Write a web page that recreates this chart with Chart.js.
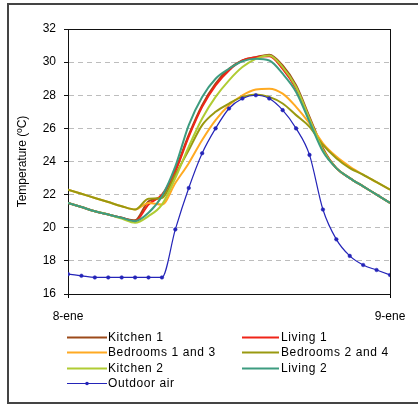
<!DOCTYPE html>
<html><head><meta charset="utf-8">
<script src="https://cdn.jsdelivr.net/npm/chart.js@4.4.0/dist/chart.umd.min.js"></script>
<style>
html,body{margin:0;padding:0;background:#fff;overflow:hidden;}
#frame{position:absolute;left:7px;top:3px;width:420px;height:401px;border:2px solid #444;box-sizing:border-box;}
#c{position:absolute;left:0;top:0;}
</style></head><body>
<div id="frame"></div>
<canvas id="c" width="418" height="406"></canvas>
<script>
const hours = [0,1,2,3,4,5,6,7,8,9,10,11,12,13,14,15,16,17,18,19,20,21,22,23,24];
const xTickLabels = ['8-ene','9-ene'];
const seriesNames = ['Kitchen 1','Living 1','Bedrooms 1 and 3','Bedrooms 2 and 4','Kitchen 2','Living 2','Outdoor air'];
const kitchen1  = [21.5,21.25,21.0,20.8,20.6,20.45,21.6,21.9,23.5,25.6,27.4,28.7,29.6,30.1,30.3,30.45,29.8,28.6,26.7,24.8,23.6,23.0,22.5,22.0,21.5];
const living1   = [21.5,21.25,21.0,20.8,20.6,20.4,21.4,22.0,23.4,25.5,27.3,28.6,29.5,30.1,30.3,30.35,29.6,28.4,26.6,24.7,23.6,23.0,22.5,22.0,21.5];
const bedrooms13= [22.3,22.05,21.8,21.55,21.3,21.1,21.5,21.4,22.7,23.9,25.3,26.5,27.4,28.0,28.35,28.4,28.1,27.3,26.3,25.1,24.3,23.7,23.2,22.75,22.3];
const bedrooms24= [22.3,22.05,21.8,21.55,21.3,21.1,21.75,21.8,23.2,24.7,26.2,27.0,27.5,27.9,28.05,27.9,27.5,26.8,26.1,25.0,24.2,23.6,23.2,22.75,22.3];
const kitchen2  = [21.5,21.25,21.0,20.8,20.55,20.3,20.7,21.4,23.0,24.9,26.6,27.9,28.9,29.7,30.2,30.4,29.7,28.5,26.6,24.7,23.6,23.0,22.5,22.0,21.5];
const living2   = [21.5,21.25,21.0,20.8,20.6,20.4,20.9,21.9,23.7,26.2,27.9,29.0,29.6,30.05,30.2,30.1,29.3,28.2,26.4,24.6,23.6,23.0,22.5,22.0,21.5];
const outdoorAir= [17.2,17.1,17.0,17.0,17.0,17.0,17.0,17.0,19.9,22.4,24.5,26.0,27.2,27.8,28.0,27.8,27.1,26.0,24.4,21.1,19.3,18.3,17.75,17.45,17.15];
const seriesValues = [kitchen1,living1,bedrooms13,bedrooms24,kitchen2,living2,outdoorAir];
const seriesColors = ['#9C4A1A','#F02418','#FFAA22','#999910','#B0CC33','#3D9C80','#2424B8'];

const FONT = '"Liberation Sans", Arial, sans-serif';

const datasets = seriesValues.map((vals,i)=>{
  const outdoor = i === seriesValues.length-1;
  return {
    label: seriesNames[i],
    data: hours.map((h,k)=>({x:h,y:vals[k]})),
    borderColor: seriesColors[i],
    backgroundColor: seriesColors[i],
    borderWidth: outdoor ? 1.2 : 2,
    pointRadius: outdoor ? 1.8 : 0,
    pointBackgroundColor: seriesColors[i],
    pointBorderColor: seriesColors[i],
    pointBorderWidth: 0.5,
    cubicInterpolationMode: 'monotone',
    fill: false,
    order: seriesValues.length - i
  };
});

const frameAndLegend = {
  id: 'frameAndLegend',
  beforeDatasetsDraw(chart){
    const a = chart.chartArea, ctx = chart.ctx;
    ctx.save();
    ctx.strokeStyle = '#111';
    ctx.lineWidth = 1;
    ctx.strokeRect(Math.round(a.left)+0.5, Math.round(a.top)+0.5, Math.round(a.right-a.left), Math.round(a.bottom-a.top));
    ctx.restore();
  },
  afterDraw(chart){
    const ctx = chart.ctx;
    ctx.save();
    ctx.font = '12px ' + FONT;
    try { ctx.letterSpacing = '0.6px'; } catch(e) {}
    ctx.textBaseline = 'middle';
    chart.data.datasets.forEach((ds,i)=>{
      const col = i%2, row = Math.floor(i/2);
      const x0 = col ? 242 : 67, x1 = col ? 279 : 107, tx = col ? 281 : 108;
      const y = Math.round(337 + row*15.3) + 0.5;
      ctx.strokeStyle = ds.borderColor;
      ctx.lineWidth = ds.borderWidth;
      ctx.beginPath(); ctx.moveTo(x0,y); ctx.lineTo(x1,y); ctx.stroke();
      if (ds.pointRadius > 0) {
        ctx.fillStyle = ds.pointBackgroundColor;
        ctx.beginPath(); ctx.arc((x0+x1)/2, y, ds.pointRadius, 0, Math.PI*2); ctx.fill();
      }
      ctx.fillStyle = '#000';
      ctx.fillText(ds.label, tx, y);
    });
    ctx.restore();
  }
};

new Chart(document.getElementById('c'), {
  type: 'line',
  data: { datasets },
  plugins: [frameAndLegend],
  options: {
    responsive: false,
    animation: false,
    events: [],
    layout: { padding: { top: 29, right: 28, left: 0, bottom: 0 } },
    plugins: { legend: { display: false }, tooltip: { enabled: false } },
    scales: {
      x: {
        type: 'linear', min: 0, max: 24,
        afterBuildTicks(s){ s.ticks = [{value:0},{value:24}]; },
        ticks: {
          callback: (v)=> v===0 ? xTickLabels[0] : (v===24 ? xTickLabels[1] : ''),
          font: { family: FONT, size: 12 }, color: '#000', padding: 11, maxRotation: 0, autoSkip: false
        },
        grid: { drawOnChartArea: false, tickLength: 4, color: '#000' },
        border: { color: '#111', width: 1 },
        afterFit(s){ s.height = 112; }
      },
      y: {
        min: 16, max: 32,
        ticks: { stepSize: 2, font: { family: FONT, size: 12 }, color: '#000', padding: 8 },
        grid: { color: '#bdbdbd', tickLength: 4, tickColor: '#111', lineWidth: 1 },
        border: { color: '#111', width: 1, dash: [5,4] },
        title: { display: true, text: 'Temperature (ºC)', font: { family: FONT, size: 12 }, color: '#000', padding: { top: 15, bottom: 0 } },
        afterFit(s){ s.width = 68; }
      }
    }
  }
});
</script>
</body></html>
